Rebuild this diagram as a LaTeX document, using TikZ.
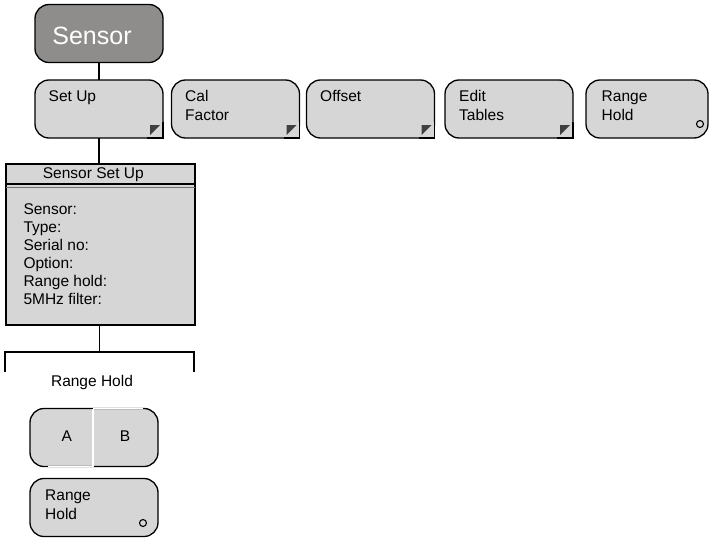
\documentclass[tikz,border=0pt]{standalone}
\usepackage{fontspec}
\setmainfont{Liberation Sans}
\definecolor{keyfill}{RGB}{214,214,214}
\definecolor{headfill}{RGB}{142,141,140}
\definecolor{markfill}{RGB}{64,64,64}
\begin{document}
\begin{tikzpicture}[x=1pt,y=-1pt,
    btn/.style={draw=black,line width=1.3pt,fill=keyfill,rounded corners=14pt,
      minimum width=128pt,minimum height=58pt,inner sep=0pt,outer sep=0pt},
    keytext/.style={font=\fontsize{15.5}{18.5}\selectfont,align=left,anchor=base west,inner sep=0pt},
    wire/.style={line width=1.3pt},
    dotmark/.style={circle,draw=black,line width=1.1pt,minimum size=7pt,inner sep=0pt}]
  \useasboundingbox (0,0) rectangle (709,538);

  % top key
  \node[btn,fill=headfill] (sensor) at (99,33.5) {};
  \node[keytext,anchor=base,text=white,font=\fontsize{25}{30}\selectfont] (sensorT) at (92,44.5) {Sensor};

  % soft keys
  \node[btn] (setup) at (99,109) {};
  \node[btn] (calf) at (235.5,109) {};
  \node[btn] (offset) at (370.5,109) {};
  \node[btn] (edit) at (509,109) {};
  \node[btn,minimum width=122pt] (hold) at (647,109) {};
  \foreach \k in {setup,calf,offset,edit} {
    \fill[keyfill] ([xshift=-16pt]\k.south east) rectangle ([yshift=16pt]\k.south east);
    \draw[line width=1.3pt] ([xshift=-16pt]\k.south east) -- (\k.south east) -- ([yshift=16pt]\k.south east);
    \fill[markfill] ([shift={(-13pt,13pt)}]\k.south east) -- ([shift={(-3pt,13pt)}]\k.south east)
      -- ([shift={(-13pt,3pt)}]\k.south east) -- cycle;
  }
  % base of a two line text is its last line
  \node[keytext] (setupT) at (48.5,101.5) {Set Up};
  \node[keytext] (calfT) at (185,120) {Cal\\Factor};
  \node[keytext] (offsetT) at (320,101.5) {Offset};
  \node[keytext] (editT) at (459,120) {Edit\\Tables};
  \node[keytext] (holdT) at (601.5,120) {Range\\Hold};
  \node[dotmark] (holdO) at (700,124) {};

  \draw[wire] (sensor) -- (setup);
  \draw[wire] (setup.south) -- (setup.south |- 0,164);

  % set up panel
  \node[draw=black,line width=1.2pt,fill=keyfill,minimum width=189pt,minimum height=161pt,
    inner sep=0pt,outer sep=0pt] (ssu) at (100.5,244.5) {};
  \draw[line width=1.2pt] ([yshift=-20pt]ssu.north west) -- ([yshift=-20pt]ssu.north east);
  \draw[line width=1pt,black!55] ([yshift=-23pt]ssu.north west) -- ([yshift=-23pt]ssu.north east);
  \node[keytext,anchor=base] (ssuT) at (93.3,178.5) {Sensor Set Up};
  \node[keytext,font=\fontsize{15.5}{18}\selectfont] (ssuL) at (23.3,304.5)
    {Sensor:\\Type:\\Serial no:\\Option:\\Range hold:\\5MHz filter:};

  % range hold keys
  \coordinate (fork) at (99.5,352);
  \coordinate (forkL) at (5,372);
  \coordinate (forkR) at (194,372);
  \draw[wire] (fork |- ssu.south) -- (fork);
  \draw[wire] (forkL) |- (fork) -| (forkR);
  \node[keytext,anchor=base] (rhT) at (92,386) {Range Hold};

  \node[btn] (ab) at (94,437.5) {};
  \draw[white,line width=1.6pt] ([xshift=-1pt]ab.north) -- ([xshift=-1pt]ab.south);
  \draw[white,line width=1.4pt] ([xshift=-1pt]ab.north) -- ([xshift=-15pt]ab.north east);
  \draw[white,line width=1.4pt] ([xshift=18pt]ab.south west) -- ([xshift=-1pt]ab.south);
  \node[keytext,anchor=base] (abA) at (66.7,441) {A};
  \node[keytext,anchor=base] (abB) at (125,441) {B};

  \node[btn] (hold2) at (94,507.5) {};
  \node[keytext] (hold2T) at (45,519) {Range\\Hold};
  \node[dotmark] (hold2O) at (143,523) {};
\end{tikzpicture}
\end{document}
